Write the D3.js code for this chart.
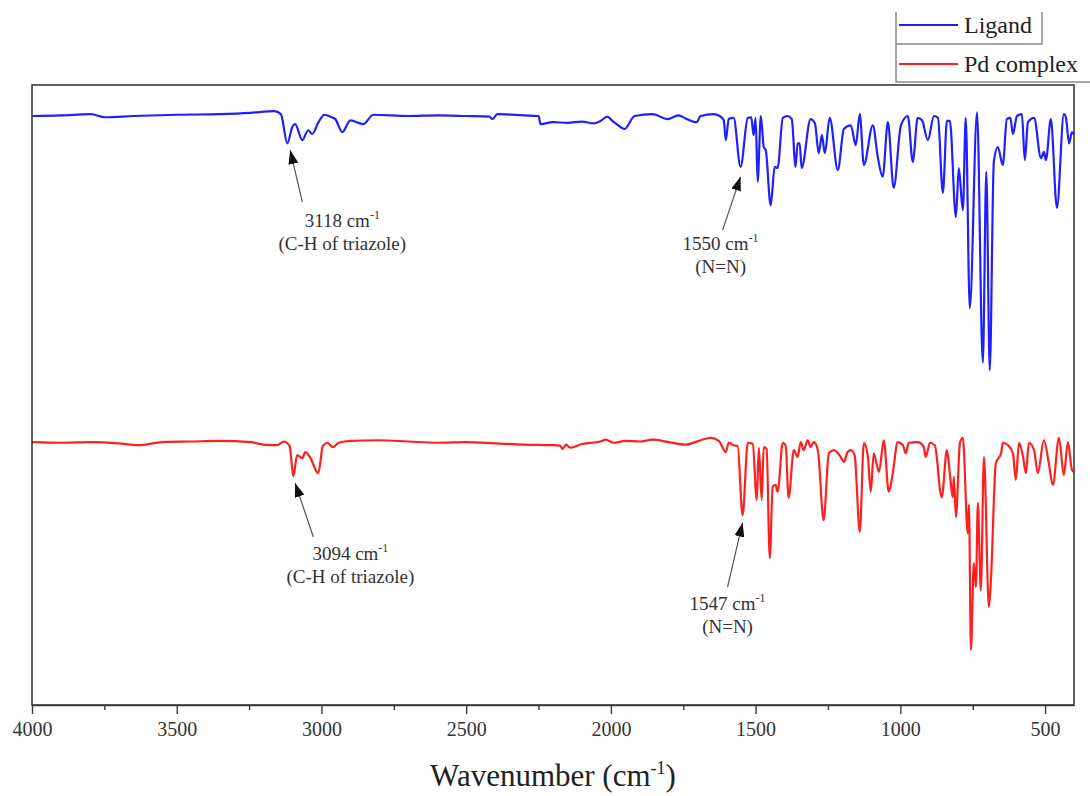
<!DOCTYPE html>
<html>
<head>
<meta charset="utf-8">
<script src="https://cdn.jsdelivr.net/npm/d3@7"></script>
<style>
  html, body { margin: 0; padding: 0; background: #fff; }
  svg { display: block; }
  text { font-family: "Liberation Serif", "Times New Roman", serif; }
</style>
</head>
<body>
<svg id="chart" width="1090" height="796"></svg>
<script>
// FT-IR spectra: [wavenumber (cm-1), transmittance (a.u., offset)]
const ligandSpectrum = [
  [4000,95.0],[3900,95.1],[3796,95.3],[3748,94.8],[3650,95.0],[3500,95.2],[3350,95.3],
  [3246,95.5],[3163,95.8],[3140,95.3],[3118,90.6],[3100,93.3],[3091,93.7],[3066,91.1],
  [3046,92.7],[3032,92.1],[3010,94.0],[2990,95.2],[2965,94.8],[2952,94.5],[2928,92.4],
  [2900,94.3],[2855,93.7],[2821,95.2],[2700,95.0],[2600,95.1],[2500,95.0],[2420,94.9],
  [2409,94.5],[2392,95.3],[2300,95.1],[2250,95.0],[2243,93.7],[2200,94.0],[2150,93.9],
  [2100,94.1],[2060,93.8],[2036,94.2],[2012,94.9],[1995,94.2],[1980,93.7],[1953,92.9],
  [1918,95.0],[1856,95.3],[1804,94.5],[1766,95.1],[1742,94.6],[1704,94.0],[1690,95.0],
  [1645,95.3],[1624,95.0],[1610,94.3],[1603,91.1],[1593,94.5],[1576,94.7],[1552,86.8],
  [1527,94.7],[1515,94.8],[1507,91.9],[1500,94.7],[1493,84.4],[1482,95.0],[1472,90.0],
  [1465,89.5],[1448,80.6],[1434,86.8],[1424,86.6],[1406,94.7],[1389,95.0],[1375,94.5],
  [1362,86.8],[1355,90.6],[1348,90.6],[1341,86.6],[1310,94.5],[1295,93.8],[1282,89.0],
  [1271,91.9],[1261,89.0],[1244,94.7],[1216,86.3],[1195,92.9],[1171,93.5],[1154,90.3],
  [1140,95.3],[1126,87.1],[1095,93.5],[1078,88.4],[1061,85.2],[1043,94.0],[1023,83.4],
  [998,93.5],[974,95.0],[957,87.6],[940,94.7],[925,94.3],[905,91.1],[884,95.0],[870,94.7],
  [853,82.6],[839,94.2],[829,94.2],[808,78.7],[798,86.6],[784,79.8],[774,94.7],[760,64.0],
  [735,95.6],[715,55.2],[703,86.0],[691,54.0],[677,87.6],[663,90.0],[646,87.1],[632,94.5],
  [620,94.7],[611,92.1],[597,95.0],[580,95.3],[570,87.9],[559,94.0],[538,94.7],[514,88.2],
  [504,89.2],[497,87.9],[480,94.5],[459,80.2],[435,95.3],[428,94.8],[417,90.6],[407,92.4],
  [400,92.0]
];

const pdSpectrum = [
  [4000,42.4],[3900,42.3],[3800,42.4],[3700,42.2],[3633,41.9],[3550,42.4],[3450,42.5],
  [3350,42.6],[3246,42.4],[3200,42.0],[3153,41.9],[3130,42.5],[3110,41.8],[3097,36.9],
  [3084,40.3],[3066,39.8],[3056,40.8],[3040,40.0],[3011,37.4],[2995,41.8],[2980,42.3],
  [2960,41.6],[2940,42.3],[2900,42.6],[2800,42.7],[2700,42.5],[2600,42.3],[2500,42.4],
  [2400,42.2],[2300,42.0],[2200,41.9],[2175,41.8],[2167,41.3],[2155,42.0],[2140,41.5],
  [2100,42.1],[2036,42.5],[2018,42.8],[1990,42.3],[1950,42.6],[1900,42.5],[1856,42.8],
  [1800,42.4],[1742,42.0],[1690,42.7],[1655,43.1],[1627,42.6],[1603,40.8],[1593,42.3],
  [1576,41.9],[1562,41.8],[1545,30.6],[1527,42.3],[1510,42.1],[1496,33.1],[1489,41.5],
  [1479,33.1],[1472,41.6],[1462,41.3],[1451,23.7],[1441,35.2],[1431,35.5],[1424,34.4],
  [1406,42.3],[1396,41.8],[1386,33.4],[1368,41.1],[1355,40.0],[1344,42.4],[1334,41.1],
  [1320,42.7],[1310,41.6],[1299,42.4],[1285,41.1],[1265,29.8],[1247,40.6],[1230,41.1],
  [1206,40.0],[1195,39.2],[1182,40.8],[1171,41.1],[1158,40.3],[1140,27.9],[1126,42.3],
  [1112,40.0],[1102,34.4],[1092,40.6],[1074,37.6],[1057,42.7],[1040,34.4],[1026,37.4],
  [1009,42.4],[991,41.9],[981,40.6],[971,42.3],[940,42.4],[919,41.6],[912,40.0],[898,42.3],
  [881,41.9],[857,33.5],[839,41.1],[829,37.4],[819,33.5],[815,36.8],[808,30.3],[794,42.3],
  [784,43.1],[767,27.7],[763,32.3],[756,8.9],[746,22.9],[739,19.0],[732,32.6],[722,18.5],
  [711,40.0],[694,15.8],[687,20.2],[670,39.0],[652,40.6],[646,42.3],[628,41.9],[611,40.6],
  [601,36.3],[590,42.3],[576,40.0],[566,37.4],[556,42.3],[538,41.1],[525,37.4],[504,42.7],
  [487,39.0],[473,35.5],[452,43.1],[435,37.1],[421,42.4],[407,37.9],[400,37.6]
];

const seriesNames = ["Ligand", "Pd complex"];
const seriesColors = ["#1f1fff", "#ff1f1f"];

const majorTicks = [4000, 3500, 3000, 2500, 2000, 1500, 1000, 500];
const minorTicks = [3750, 3250, 2750, 2250, 1750, 1250, 750];

// Peak annotations: tip = marked peak, tail = arrow start, label anchored below
const annotations = [
  { tip: [3108, 89.5], tail: [3066, 81.1], label: [2928, 77.1], value: "3118", note: "(C-H of triazole)" },
  { tip: [3091, 35.8], tail: [3028, 27.1], label: [2900, 23.4], value: "3094", note: "(C-H of triazole)" },
  { tip: [1552, 85.2], tail: [1614, 76.6], label: [1621, 73.4], value: "1550", note: "(N=N)" },
  { tip: [1545, 29.4], tail: [1597, 19.0], label: [1597, 15.3], value: "1547", note: "(N=N)" }
];

const serif = "'Liberation Serif', 'Times New Roman', serif";
const frame = { left: 32, right: 1074, top: 85, bottom: 705 };

const svg = d3.select("#chart");

const x = d3.scaleLinear().domain([4000, 400]).range([frame.left, frame.right]);
const y = d3.scaleLinear().domain([0, 100]).range([frame.bottom, frame.top]);

// Spectra
const line = d3.line()
  .x(d => x(d[0]))
  .y(d => y(d[1]))
  .curve(d3.curveMonotoneX);

[ligandSpectrum, pdSpectrum].forEach((data, i) => {
  svg.append("path")
    .datum(data)
    .attr("d", line)
    .attr("fill", "none")
    .attr("stroke", seriesColors[i])
    .attr("stroke-width", 2.2)
    .attr("stroke-linejoin", "round");
});

// Plot frame
svg.append("rect")
  .attr("x", frame.left).attr("y", frame.top)
  .attr("width", frame.right - frame.left)
  .attr("height", frame.bottom - frame.top)
  .attr("fill", "none")
  .attr("stroke", "#3a3a3a")
  .attr("stroke-width", 1.6);

// Bottom axis: labelled major ticks, unlabelled minor ticks
const axisMajor = svg.append("g")
  .attr("transform", `translate(0,${frame.bottom})`)
  .call(d3.axisBottom(x).tickValues(majorTicks).tickFormat(d3.format("d"))
    .tickSize(9).tickSizeOuter(0).tickPadding(8));
axisMajor.attr("font-family", null);
axisMajor.select(".domain").attr("stroke", "#3a3a3a").attr("stroke-width", 1.6);
axisMajor.selectAll(".tick line").attr("stroke", "#3a3a3a").attr("stroke-width", 1.4);
axisMajor.selectAll(".tick text")
  .style("font-family", serif)
  .style("font-size", "20px")
  .attr("fill", "#333");

const axisMinor = svg.append("g")
  .attr("transform", `translate(0,${frame.bottom})`)
  .call(d3.axisBottom(x).tickValues(minorTicks).tickSize(5).tickSizeOuter(0).tickFormat(""));
axisMinor.select(".domain").remove();
axisMinor.selectAll(".tick line").attr("stroke", "#3a3a3a").attr("stroke-width", 1.4);

// Axis title
const title = svg.append("text")
  .attr("x", (frame.left + frame.right) / 2)
  .attr("y", 786)
  .attr("text-anchor", "middle")
  .style("font-family", serif)
  .attr("font-size", 31)
  .attr("fill", "#222");
title.append("tspan").text("Wavenumber (cm");
title.append("tspan").attr("font-size", 18).attr("dy", -12).text("-1");
title.append("tspan").attr("dy", 12).text(")");

// Arrowhead marker
svg.append("defs").append("marker")
  .attr("id", "arrowhead")
  .attr("markerUnits", "userSpaceOnUse")
  .attr("viewBox", "0 0 14 10")
  .attr("refX", 14).attr("refY", 5)
  .attr("markerWidth", 14).attr("markerHeight", 10)
  .attr("orient", "auto")
  .append("path")
  .attr("d", "M0,0 L14,5 L0,10 Z")
  .attr("fill", "#111");

// Peak annotations
annotations.forEach(a => {
  svg.append("line")
    .attr("x1", x(a.tail[0])).attr("y1", y(a.tail[1]))
    .attr("x2", x(a.tip[0])).attr("y2", y(a.tip[1]))
    .attr("stroke", "#555")
    .attr("stroke-width", 1.2)
    .attr("marker-end", "url(#arrowhead)");

  const lx = x(a.label[0]);
  const ly = y(a.label[1]);
  const t1 = svg.append("text")
    .attr("x", lx).attr("y", ly)
    .attr("text-anchor", "middle")
    .style("font-family", serif)
    .attr("font-size", 19)
    .attr("fill", "#333");
  t1.append("tspan").text(a.value + " cm");
  t1.append("tspan").attr("font-size", 12).attr("dy", -8).text("-1");

  svg.append("text")
    .attr("x", lx).attr("y", ly + 23)
    .attr("text-anchor", "middle")
    .style("font-family", serif)
    .attr("font-size", 19)
    .attr("fill", "#333")
    .text(a.note);
});

// Legend (two stacked entry boxes at the top right)
const legend = svg.append("g");
const legendBorder = "#8a8a8a";
legend.append("path")
  .attr("d", "M896,12 V44 H1042 V12")
  .attr("fill", "none").attr("stroke", legendBorder).attr("stroke-width", 1.5);
legend.append("path")
  .attr("d", "M896,44 V82 H1090")
  .attr("fill", "none").attr("stroke", legendBorder).attr("stroke-width", 1.5);

const legendRows = [25, 64];
seriesNames.forEach((name, i) => {
  legend.append("line")
    .attr("x1", 899).attr("x2", 958)
    .attr("y1", legendRows[i]).attr("y2", legendRows[i])
    .attr("stroke", seriesColors[i]).attr("stroke-width", 2);
  legend.append("text")
    .attr("x", 964).attr("y", legendRows[i] + 8)
    .style("font-family", serif)
    .attr("font-size", 24)
    .attr("fill", "#222")
    .text(name);
});
</script>
</body>
</html>
